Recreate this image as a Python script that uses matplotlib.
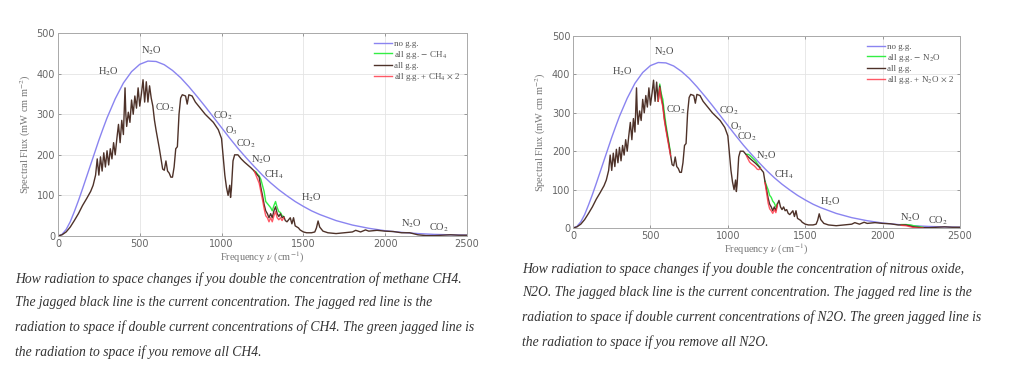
import matplotlib
matplotlib.use("Agg")
import matplotlib.pyplot as plt

plt.rcParams['mathtext.fontset'] = 'stix'

# wavenumber grid (cm^-1) and spectral flux (mW cm m^-2)
nu = [0, 25, 50, 75, 100, 125, 150, 175, 200, 215, 230, 240, 250, 260, 270, 280, 290,
      300, 310, 320, 330, 340, 350, 360, 370, 380, 390, 400, 410, 415, 420, 430, 440,
      450, 460, 470, 480, 490, 500, 510, 520, 530, 540, 550, 560, 570, 580, 590, 600,
      620, 640, 650, 660, 670, 680, 690, 700, 710, 720, 730, 740, 750, 760, 780, 790,
      800, 820, 840, 860, 880, 900, 920, 950, 980, 1000, 1010, 1020, 1030, 1040, 1050,
      1055, 1060, 1070, 1080, 1100, 1120, 1140, 1160, 1180, 1200, 1220, 1230, 1240,
      1250, 1260, 1270, 1280, 1290, 1300, 1310, 1320, 1330, 1340, 1350, 1360, 1370,
      1380, 1390, 1400, 1420, 1430, 1440, 1450, 1470, 1480, 1500, 1520, 1550, 1570,
      1580, 1590, 1600, 1620, 1650, 1700, 1750, 1800, 1820, 1850, 1880, 1900, 1950,
      2000, 2050, 2100, 2150, 2200, 2250, 2300, 2400, 2450, 2500]
flux_all = [0, 3, 10, 22, 38, 55, 75, 92, 110, 125, 150, 190, 150, 195, 160, 205, 170,
            210, 175, 215, 190, 230, 200, 240, 275, 230, 285, 250, 365, 300, 270, 305, 280,
            335, 300, 345, 315, 365, 320, 350, 385, 330, 380, 330, 370, 340, 320, 285, 260,
            215, 165, 162, 185, 160, 155, 145, 145, 170, 215, 220, 300, 340, 348, 345, 325,
            348, 345, 330, 320, 310, 300, 292, 280, 262, 240, 195, 150, 120, 100, 125,
            95, 115, 185, 200, 200, 190, 182, 175, 168, 160, 150, 145, 120,
            100, 78, 62, 55, 45, 55, 45, 62, 72, 55, 48, 55, 45,
            48, 38, 35, 45, 30, 45, 25, 20, 15, 10, 8, 8, 10,
            20, 37, 22, 12, 8, 6, 8, 10, 14, 10, 15, 12, 14,
            12, 11, 8, 8, 3, 1, 1, 3, 2, 2]

# no greenhouse gases (smooth envelope)
nu_bb = [0, 25, 50, 75, 100, 125, 150, 175, 200, 225, 250, 275, 300, 350, 400, 450,
         500, 550, 600, 650, 700, 750, 800, 850, 900, 950, 1000, 1050, 1100, 1150, 1200,
         1250, 1300, 1350, 1400, 1450, 1500, 1550, 1600, 1700, 1800, 1900, 2000, 2100,
         2200, 2300, 2400, 2500]
flux_bb = [0, 4, 16, 35, 60, 87, 116, 146, 176, 206, 236, 264, 291, 338, 377, 405,
           423, 431, 430, 422, 408, 390, 368, 344, 319, 293, 267, 241, 216, 193, 171,
           150, 131, 114, 99, 85, 73, 62, 53, 38, 27, 19, 13, 9,
           6, 4, 3, 2]

# CH4 band: removed / doubled
ch4_nu = [1200, 1210, 1220, 1230, 1240, 1250, 1260, 1270, 1280, 1290, 1300, 1310, 1320,
          1330, 1340, 1350, 1360, 1370, 1380]
ch4_removed = [160, 158, 152, 148, 140, 125, 110, 85, 80, 75, 70, 62, 75, 85, 70, 60, 58, 50, 48]
ch4_doubled = [160, 150, 140, 130, 110, 90, 68, 50, 45, 35, 45, 35, 50, 60, 45, 40, 45, 38, 45]

# N2O bands: removed / doubled
n2o_nu_a = [550, 560, 570, 580, 590, 600, 610, 620, 630]
n2o_removed_a = [330, 375, 350, 335, 300, 270, 245, 220, 195]
n2o_doubled_a = [330, 365, 335, 315, 280, 255, 232, 210, 188]
n2o_nu_b = [1120, 1130, 1140, 1150, 1160, 1170, 1180, 1190, 1200, 1210]
n2o_removed_b = [192, 192, 190, 186, 182, 178, 174, 168, 162, 158]
n2o_doubled_b = [188, 180, 172, 168, 165, 162, 158, 153, 152, 156]
n2o_nu_c = [1240, 1250, 1260, 1270, 1280, 1290, 1300, 1310, 1320]
n2o_removed_c = [122, 110, 100, 85, 80, 70, 65, 55, 64]
n2o_doubled_c = [118, 92, 65, 50, 45, 38, 48, 40, 60]
n2o_nu_d = [2120, 2150, 2180, 2200, 2230, 2260]
n2o_removed_d = [9, 9, 8, 6, 4, 2]
n2o_doubled_d = [7, 6, 3, 1, 0, 0]

# band labels (text, nu, flux)
labels_ch4 = [(r'H$_2$O', 306, 405), (r'N$_2$O', 571, 457), (r'CO$_2$', 657, 315),
              (r'CO$_2$', 1010, 297), (r'O$_3$', 1061, 260), (r'CO$_2$', 1147, 228),
              (r'N$_2$O', 1241, 188), (r'CH$_4$', 1322, 150), (r'H$_2$O', 1551, 95),
              (r'N$_2$O', 2163, 29), (r'CO$_2$', 2327, 21)]
labels_n2o = [(r'H$_2$O', 316, 408), (r'N$_2$O', 590, 458), (r'CO$_2$', 665, 307),
              (r'CO$_2$', 1005, 305), (r'O$_3$', 1054, 264), (r'CO$_2$', 1127, 238),
              (r'N$_2$O', 1252, 188), (r'CH$_4$', 1360, 138), (r'H$_2$O', 1665, 69),
              (r'N$_2$O', 2177, 28), (r'CO$_2$', 2356, 19)]

captions = [
    "How radiation to space changes if you double the concentration of methane CH4.\n"
    "The jagged black line is the current concentration. The jagged red line is the\n"
    "radiation to space if double current concentrations of CH4. The green jagged line is\n"
    "the radiation to space if you remove all CH4.",
    "How radiation to space changes if you double the concentration of nitrous oxide,\n"
    "N2O. The jagged black line is the current concentration. The jagged red line is the\n"
    "radiation to space if double current concentrations of N2O. The green jagged line is\n"
    "the radiation to space if you remove all N2O.",
]

GRAY = '#8a8a8a'
SERIF = 'Liberation Serif'


def draw_panel(ax, bands, gas, labels):
    ax.plot(nu_bb, flux_bb, color='#8a84f0', lw=1.0, label='no g.g.')
    for i, (bn, rem, dbl) in enumerate(bands):
        ax.plot(bn, rem, color='#33ee44', lw=1.0,
                label=r'all g.g. $-$ ' + gas if i == 0 else None)
    ax.plot(nu, flux_all, color='#4e3229', lw=1.0, label='all g.g.')
    for i, (bn, rem, dbl) in enumerate(bands):
        ax.plot(bn, dbl, color='#ff3040', lw=1.0, alpha=0.8,
                label=r'all g.g. + ' + gas + r' $\times$ 2' if i == 0 else None)

    for txt, x, y in labels:
        ax.text(x, y, txt, ha='center', va='center', fontsize=7.5,
                family=SERIF, color='#444444')

    ax.set_xlim(0, 2500)
    ax.set_ylim(0, 500)
    ax.set_xticks([0, 500, 1000, 1500, 2000, 2500])
    ax.set_yticks([0, 100, 200, 300, 400, 500])
    ax.grid(True, color='#e4e4e4', lw=0.6)
    ax.tick_params(direction='in', length=2.5, width=0.6, colors=GRAY,
                   labelcolor='#666666', labelsize=7, top=True, right=True, pad=2)
    for s in ax.spines.values():
        s.set_color('#aaaaaa')
        s.set_linewidth(0.7)
    ax.set_xlabel(r'Frequency $\nu$ (cm$^{-1}$)', family=SERIF, fontsize=7.5,
                  color='#777777', labelpad=1)
    ax.set_ylabel(r'Spectral Flux (mW cm m$^{-2}$)', family=SERIF, fontsize=7.5,
                  color='#777777', labelpad=3)
    leg = ax.legend(loc='upper right', frameon=False,
                    prop={'family': SERIF, 'size': 6.5}, handlelength=2.0,
                    handletextpad=0.2, labelspacing=0.1, borderaxespad=0.3)
    for t in leg.get_texts():
        t.set_color('#555555')


fig = plt.figure(figsize=(10.24, 3.65), dpi=100)
ax1 = fig.add_axes([0.0566, 0.3534, 0.3994, 0.556])
ax2 = fig.add_axes([0.5596, 0.3753, 0.378, 0.526])

draw_panel(ax1, [(ch4_nu, ch4_removed, ch4_doubled)], r'CH$_4$', labels_ch4)
draw_panel(ax2, [(n2o_nu_a, n2o_removed_a, n2o_doubled_a),
                 (n2o_nu_b, n2o_removed_b, n2o_doubled_b),
                 (n2o_nu_c, n2o_removed_c, n2o_doubled_c),
                 (n2o_nu_d, n2o_removed_d, n2o_doubled_d)], r'N$_2$O', labels_n2o)

fig.text(15 / 1024, 1 - 272 / 365, captions[0], ha='left', va='top', fontsize=9.8,
         family=SERIF, style='italic', color='#333333', linespacing=2.05)
fig.text(522 / 1024, 1 - 262 / 365, captions[1], ha='left', va='top', fontsize=9.8,
         family=SERIF, style='italic', color='#333333', linespacing=2.05)

fig.savefig('out.png', dpi=100)
